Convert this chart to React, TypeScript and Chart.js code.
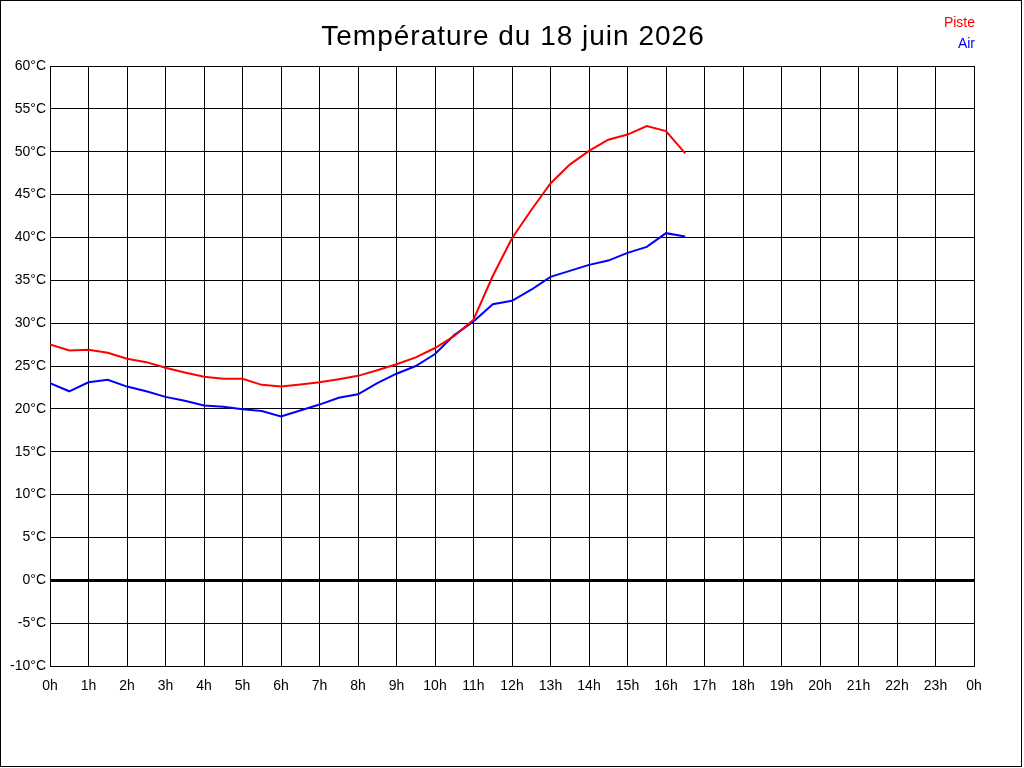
import { useEffect, useRef } from "react";
import { Chart, ChartConfiguration, Plugin, registerables } from "chart.js";

Chart.register(...registerables);

// half-hour readings, 0h -> 16h30
const hours = [
  0, 0.5, 1, 1.5, 2, 2.5, 3, 3.5, 4, 4.5, 5, 5.5, 6, 6.5, 7, 7.5, 8, 8.5,
  9, 9.5, 10, 10.5, 11, 11.5, 12, 12.5, 13, 13.5, 14, 14.5, 15, 15.5, 16, 16.5,
];

const piste = [
  27.5, 26.8, 26.9, 26.55, 25.85, 25.45, 24.8, 24.25, 23.75, 23.5, 23.5, 22.8,
  22.6, 22.85, 23.1, 23.45, 23.85, 24.5, 25.2, 26.0, 27.1, 28.5, 30.4, 35.5,
  39.9, 43.2, 46.3, 48.5, 50.1, 51.4, 52.0, 53.0, 52.4, 49.8,
];

const air = [
  23.0, 22.05, 23.1, 23.4, 22.6, 22.05, 21.4, 20.95, 20.4, 20.25, 19.95, 19.75,
  19.1, 19.8, 20.5, 21.3, 21.7, 23.0, 24.1, 25.0, 26.4, 28.6, 30.2, 32.2,
  32.6, 33.9, 35.4, 36.1, 36.8, 37.3, 38.2, 38.9, 40.5, 40.1,
];

const title = "Température du 18 juin 2026";
const legendItems = [
  { label: "Piste", color: "#ff0000" },
  { label: "Air", color: "#0000ff" },
];

const FONT = "'Liberation Sans', Arial, sans-serif";

// title, text-only legend and the outer frame
const decorPlugin: Plugin<"line"> = {
  id: "decor",
  beforeDraw(chart) {
    const { ctx } = chart;
    ctx.save();
    ctx.fillStyle = "#ffffff";
    ctx.fillRect(0, 0, chart.width, chart.height);
    ctx.restore();
  },
  afterDraw(chart) {
    const { ctx } = chart;
    ctx.save();
    ctx.strokeStyle = "#000000";
    ctx.lineWidth = 1;
    ctx.strokeRect(0.5, 0.5, 1021, 766);

    ctx.fillStyle = "#000000";
    ctx.font = `28px ${FONT}`;
    (ctx as any).letterSpacing = "1px";
    ctx.textAlign = "center";
    ctx.textBaseline = "alphabetic";
    ctx.fillText(title, 513, 45);
    (ctx as any).letterSpacing = "0px";

    ctx.font = `14px ${FONT}`;
    ctx.textAlign = "right";
    legendItems.forEach((item, i) => {
      ctx.fillStyle = item.color;
      ctx.fillText(item.label, 975, 27 + i * 21);
    });
    ctx.restore();
  },
};

export default function App() {
  const canvasRef = useRef<HTMLCanvasElement>(null);
  const chartRef = useRef<Chart | null>(null);

  useEffect(() => {
    document.body.style.margin = "0";
    if (!canvasRef.current) return;
    const ctx = canvasRef.current.getContext("2d");
    if (!ctx) return;

    if (chartRef.current) {
      chartRef.current.destroy();
    }

    const config: ChartConfiguration<"line"> = {
      type: "line",
      data: {
        datasets: [
          {
            label: "Piste",
            data: hours.map((h, i) => ({ x: h, y: piste[i] })),
            borderColor: "#ff0000",
            borderWidth: 2,
            pointRadius: 0,
            tension: 0,
            fill: false,
          },
          {
            label: "Air",
            data: hours.map((h, i) => ({ x: h, y: air[i] })),
            borderColor: "#0000ff",
            borderWidth: 2,
            pointRadius: 0,
            tension: 0,
            fill: false,
          },
        ],
      },
      options: {
        responsive: true,
        maintainAspectRatio: false,
        animation: false,
        layout: { padding: { left: 0, top: 66, right: 50, bottom: 0 } },
        plugins: {
          legend: { display: false },
          title: { display: false },
          tooltip: { enabled: false },
        },
        scales: {
          x: {
            type: "linear",
            min: 0,
            max: 24,
            afterFit: (scale) => {
              scale.height = 102;
            },
            ticks: {
              stepSize: 1,
              color: "#000000",
              padding: 12,
              maxRotation: 0,
              autoSkip: false,
              font: { family: FONT, size: 14 },
              callback: (v) => `${Number(v) % 24}h`,
            },
            grid: { color: "#000000", lineWidth: 1, drawTicks: false },
            border: { display: true, color: "#000000", width: 1 },
          },
          y: {
            type: "linear",
            min: -10,
            max: 60,
            afterFit: (scale) => {
              scale.width = 50;
            },
            ticks: {
              stepSize: 5,
              color: "#000000",
              padding: 4,
              font: { family: FONT, size: 14 },
              callback: (v) => `${v}°C`,
            },
            grid: {
              color: "#000000",
              lineWidth: (c) => (c.tick && c.tick.value === 0 ? 3 : 1),
              drawTicks: false,
            },
            border: { display: true, color: "#000000", width: 1 },
          },
        },
      },
      plugins: [decorPlugin],
    };

    chartRef.current = new Chart(ctx, config);

    return () => {
      if (chartRef.current) {
        chartRef.current.destroy();
        chartRef.current = null;
      }
    };
  }, []);

  return (
    <div style={{ width: "1024px", height: "768px", position: "relative" }}>
      <canvas ref={canvasRef} />
    </div>
  );
}
